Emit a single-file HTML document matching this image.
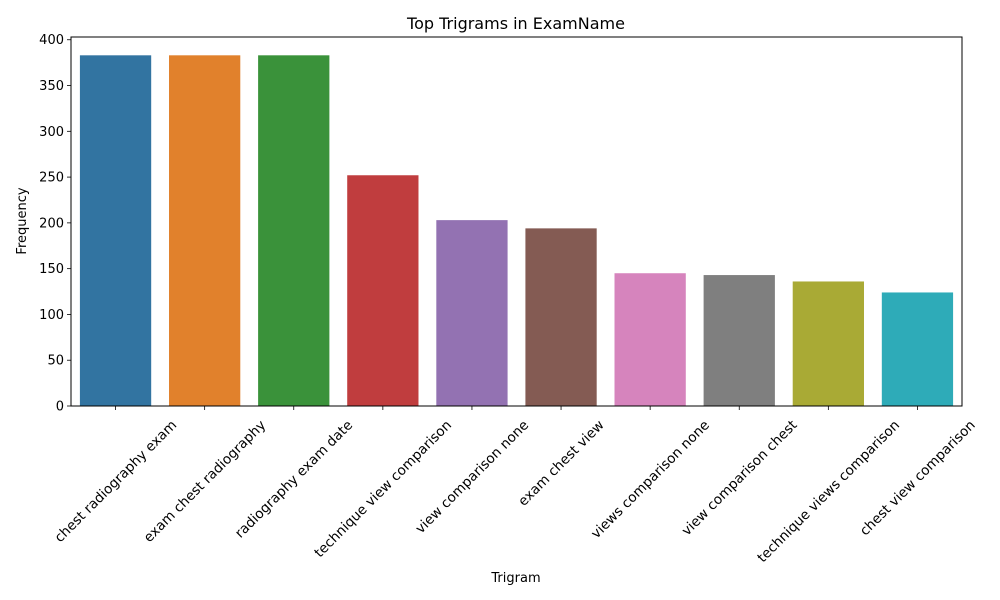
<!DOCTYPE html>
<html><head><meta charset="utf-8"><style>
html,body{margin:0;background:#fff;overflow:hidden;width:1000px;height:600px}
svg{display:block}
svg text{font-family:"DejaVu Sans","Liberation Sans",sans-serif;fill:#000}
</style></head><body>
<svg id="c" width="1000" height="600" style="position:absolute;left:0;top:0">
<text x="516" y="29" font-size="16" text-anchor="middle">Top Trigrams in ExamName</text>
<text x="516" y="582" font-size="13" text-anchor="middle">Trigram</text>
<text x="26" y="221" font-size="13" text-anchor="middle" transform="rotate(-90 26 221)">Frequency</text>
</svg>
<script>
const categories=["chest radiography exam","exam chest radiography","radiography exam date","technique view comparison","view comparison none","exam chest view","views comparison none","view comparison chest","technique views comparison","chest view comparison"];
const values=[383,383,383,252,203,194,145,143,136,124];
const yTicks=[0,50,100,150,200,250,300,350,400];
const colors=["#3274a1","#e1812c","#3a923a","#c03d3e","#9372b2","#845b53","#d684bd","#7f7f7f","#a9aa35","#2eabb8"];
const L=71,R=962,T=37,B=406,YMAX=403;
const svg=document.getElementById('c');const NS="http://www.w3.org/2000/svg";
function y(v){return B-(v/YMAX)*(B-T);}
const bw=(R-L)/categories.length;
function x(i){return L+bw*(i+0.5);}
function mk(t,a,p){const e=document.createElementNS(NS,t);for(const k in a)e.setAttribute(k,a[k]);(p||svg).appendChild(e);return e;}
categories.forEach((c,i)=>{
const h=values[i];
const r=mk('rect',{x:x(i)-bw*0.4,y:y(h),width:bw*0.8,height:B-y(h),fill:colors[i]});


mk('line',{x1:x(i),x2:x(i),y1:B,y2:B+4,stroke:'#000','stroke-width':0.8});
const t=mk('text',{x:0,y:0,'font-size':13.6,'text-anchor':'middle'});
t.textContent=c;


const w=t.getComputedTextLength();const hh=13;
const half=(w+hh)*Math.SQRT1_2/2;
const cx=x(i),cy=B+12+half;
t.setAttribute('x',cx);t.setAttribute('y',cy+4.5);
t.setAttribute('transform',`rotate(-45 ${cx} ${cy})`);
});
yTicks.forEach(v=>{
mk('line',{x1:L-4,x2:L,y1:y(v),y2:y(v),stroke:'#000','stroke-width':0.8});
const t=mk('text',{x:L-7,y:y(v)+4.5,'font-size':13,'text-anchor':'end'});
t.textContent=v;


});
const f=mk('rect',{x:L,y:T,width:R-L,height:B-T,fill:'none',stroke:'#000','stroke-width':1});


</script>
</body></html>
